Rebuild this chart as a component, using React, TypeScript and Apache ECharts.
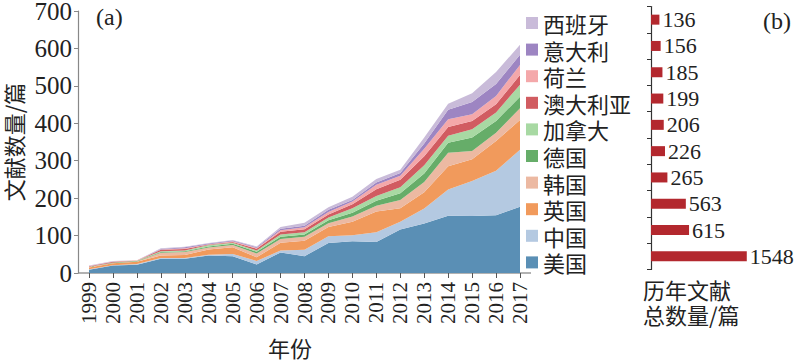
import React, { useEffect, useRef } from "react";
import * as echarts from "echarts";

const years = ["1999", "2000", "2001", "2002", "2003", "2004", "2005", "2006", "2007", "2008", "2009", "2010", "2011", "2012", "2013", "2014", "2015", "2016", "2017"];

const usa = [9, 20, 22, 38, 38, 47, 45, 23, 55, 45, 80, 85, 83, 116, 132, 153, 152, 154, 177];
const china = [1, 1, 2, 2, 2, 2, 6, 9, 5, 17, 18, 16, 26, 21, 40, 70, 94, 119, 152];
const uk = [5, 5, 6, 7, 8, 14, 18, 10, 21, 24, 25, 36, 55, 36, 44, 62, 58, 80, 80];
const korea = [1, 1, 1, 7, 8, 5, 6, 10, 10, 11, 10, 14, 16, 22, 27, 36, 22, 22, 31];
const germany = [0, 1, 1, 2, 2, 3, 3, 5, 6, 6, 8, 10, 13, 18, 23, 27, 36, 31, 31];
const canada = [1, 0, 1, 2, 2, 4, 3, 3, 6, 6, 7, 12, 13, 16, 22, 19, 22, 23, 32];
const australia = [1, 2, 0, 4, 4, 1, 2, 5, 7, 8, 8, 11, 18, 20, 24, 23, 22, 22, 26];
const netherlands = [1, 1, 1, 1, 2, 1, 2, 2, 4, 5, 7, 7, 12, 11, 20, 21, 18, 22, 27];
const italy = [0, 0, 0, 1, 3, 2, 2, 2, 4, 4, 6, 4, 6, 7, 14, 25, 33, 32, 27];
const spain = [1, 1, 0, 2, 1, 1, 1, 2, 5, 8, 7, 9, 9, 9, 16, 16, 23, 32, 27];

// bottom-to-top stacking order
const countries = ["美国", "中国", "英国", "韩国", "德国", "加拿大", "澳大利亚", "荷兰", "意大利", "西班牙"];
const seriesValues = [usa, china, uk, korea, germany, canada, australia, netherlands, italy, spain];
const colors = ["#5a8fb5", "#b4c9e1", "#f19a5c", "#ecb9a2", "#66ad69", "#a8d9a3", "#d15c61", "#f4a8aa", "#9d85c2", "#c9bbd9"];

const totals = [1548, 615, 563, 265, 226, 206, 199, 185, 156, 136];

const SERIF = "'Liberation Serif', 'Times New Roman', 'Noto Sans CJK SC', serif";
const CJK = "'Noto Sans CJK SC', 'Liberation Serif', serif";

export default function App() {
  const ref = useRef<HTMLDivElement>(null);
  useEffect(() => {
    if (!ref.current) return;
    const chart = echarts.init(ref.current, null, { renderer: "svg" });
    const areaSeries = countries.map((name, i) => ({
      name,
      type: "line",
      stack: "total",
      xAxisIndex: 0,
      yAxisIndex: 0,
      symbol: "none",
      lineStyle: { width: 0 },
      areaStyle: { color: colors[i], opacity: 1 },
      itemStyle: { color: colors[i] },
      data: seriesValues[i],
    }));
    chart.setOption({
      animation: false,
      backgroundColor: "#ffffff",
      grid: [
        { left: 89, top: 11, width: 431, height: 262, containLabel: false, outerBoundsMode: "none" },
        { left: 651, top: 6.5, width: 99, height: 263, containLabel: false, outerBoundsMode: "none" },
      ],
      xAxis: [
        {
          gridIndex: 0,
          type: "category",
          boundaryGap: false,
          data: years,
          splitLine: { show: false },
          axisLine: { show: false },
          axisTick: { show: true, length: 5, lineStyle: { color: "#555" } },
          axisLabel: {
            rotate: 90,
            margin: 9,
            fontSize: 21,
            fontFamily: SERIF,
            color: "#222",
            interval: 0,
          },
        },
        { gridIndex: 1, type: "value", min: 0, max: 1600, show: false },
      ],
      yAxis: [
        {
          gridIndex: 0,
          type: "value",
          min: 0,
          max: 700,
          interval: 100,
          offset: 11,
          splitLine: { show: false },
          axisLine: { show: true, lineStyle: { color: "#888", width: 1.2 } },
          axisTick: { show: true, length: 4, lineStyle: { color: "#888" } },
          axisLabel: { fontSize: 25, lineHeight: 22, fontFamily: SERIF, color: "#222", margin: 6 },
          name: "文献数量/篇",
          nameLocation: "middle",
          nameGap: 50,
          nameTextStyle: { fontSize: 22, fontFamily: CJK, color: "#222" },
        },
        {
          gridIndex: 1,
          type: "category",
          data: countries,
          axisLine: { show: true, lineStyle: { color: "#333", width: 1.2 } },
          axisTick: { show: true, length: 4, lineStyle: { color: "#333" } },
          axisLabel: { show: false },
        },
      ],
      legend: {
        orient: "vertical",
        left: 521,
        top: 6,
        itemWidth: 12,
        itemHeight: 12,
        itemGap: 2.6,
        icon: "rect",
        selectedMode: false,
        data: [...countries].reverse(),
        textStyle: { fontSize: 22, lineHeight: 24, fontFamily: CJK, color: "#222" },
      },
      graphic: [
        { type: "line", shape: { x1: 78, y1: 273, x2: 531, y2: 273 }, style: { stroke: "#666", lineWidth: 1.2 } },
        { type: "text", left: 96, top: 5, style: { text: "(a)", fontSize: 24, fontFamily: SERIF, fill: "#222" } },
        { type: "text", left: 763, top: 9, style: { text: "(b)", fontSize: 24, fontFamily: SERIF, fill: "#222" } },
        { type: "text", left: 268, top: 336, style: { text: "年份", fontSize: 22, fontFamily: CJK, fill: "#222" } },
        {
          type: "text",
          left: 643,
          top: 276,
          style: { text: "历年文献\n总数量/篇", fontSize: 22, lineHeight: 25, fontFamily: CJK, fill: "#222", align: "left" },
        },
      ],
      series: [
        ...areaSeries,
        {
          type: "bar",
          name: "total",
          xAxisIndex: 1,
          yAxisIndex: 1,
          barWidth: 10,
          itemStyle: { color: "#b3282e" },
          label: { show: true, position: "right", distance: 3, fontSize: 22, fontFamily: SERIF, color: "#222" },
          data: totals,
        },
      ],
    });
    return () => chart.dispose();
  }, []);
  return <div ref={ref} style={{ position: "fixed", left: 0, top: 0, width: 800, height: 362 }} />;
}
